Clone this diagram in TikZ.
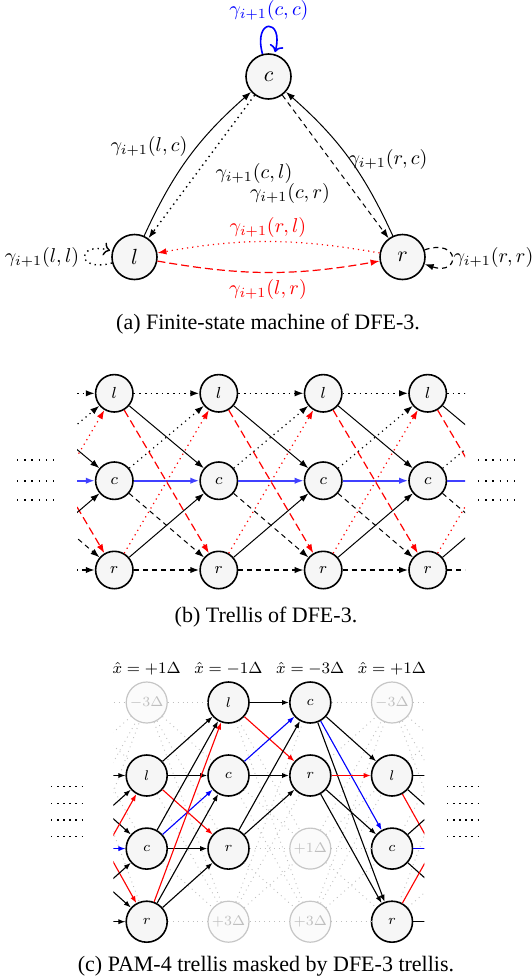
\documentclass[tikz,border=0pt]{standalone}
\usepackage[no-math]{fontspec}
\setmainfont{Liberation Serif}
\usetikzlibrary{arrows.meta}
\tikzset{
  fsm/.style={circle, draw, line width=0.8pt, fill=gray!7, minimum size=22.5pt, inner sep=0pt, font=\fontsize{11}{13}\selectfont},
  tnode/.style={circle, draw, line width=0.8pt, fill=gray!7, minimum size=18.7pt, inner sep=0pt, font=\fontsize{8}{9}\selectfont},
  pnode/.style={circle, draw, line width=0.8pt, fill=gray!7, minimum size=20.5pt, inner sep=0pt, font=\fontsize{6.8}{8}\selectfont},
  ghost/.style={circle, draw=gray!45, line width=0.6pt, fill=gray!3, text=gray!50, minimum size=20.5pt, inner sep=0pt, font=\fontsize{6.8}{8}\selectfont},
  lbl/.style={font=\fontsize{10}{12}\selectfont, inner sep=0pt},
  hdr/.style={font=\fontsize{7.9}{10}\selectfont, inner sep=0pt},
  captext/.style={font=\fontsize{11}{13}\selectfont, inner sep=1pt},
  arrA/.style={-{Latex[length=4.5pt,width=3.2pt]}},
  arrC/.style={-{Latex[length=3.5pt,width=2.6pt]}},
  blkdot/.style={arrA, dotted, line width=0.7pt},
  blkdash/.style={arrA, dash pattern=on 2.5pt off 2pt, line width=0.5pt},
  reddot/.style={arrA, red, dotted, line width=0.6pt},
  reddash/.style={arrA, red, dash pattern=on 4pt off 2pt, line width=0.6pt},
  blksolid/.style={arrA, line width=0.5pt},
  bluethick/.style={arrA, blue!75, line width=1pt},
  hdot/.style={arrA, dotted, line width=0.8pt},
  hdash/.style={arrA, dash pattern=on 2.5pt off 2pt, line width=0.8pt},
  ce/.style={arrC, line width=0.55pt},
  cred/.style={arrC, red, line width=0.55pt},
  cblue/.style={arrC, blue, line width=0.55pt},
  gline/.style={gray!50, dotted, line width=0.45pt},
  dotsB/.style={dash pattern=on 0.7pt off 2.9pt, line width=0.7pt},
  dotsC/.style={dash pattern=on 0.7pt off 2.36pt, line width=0.7pt},
}
\begin{document}
\begin{tikzpicture}[x=0.5pt,y=-0.5pt]
\useasboundingbox (0,0) rectangle (531,980);

%% (a) finite-state machine
\node[fsm] (c) at (268.5,76.5) {$c$};
\node[fsm] (l) at (134.5,257) {$l$};
\node[fsm] (r) at (402.5,257) {$r$};

\draw (c) edge[arrA, blue, line width=0.8pt, loop above] (c);
\draw (l) edge[blkdot, loop left] (l);
\draw[blkdash, line width=0.6pt] (r.18) .. controls +(36,-12) and +(36,12) .. (r.-18);
\draw[blksolid] (l) to[bend left=12] (c);
\draw[blksolid] (r) to[bend right=12] (c);
\draw[blkdot] (c) -- (l);
\draw[blkdash] (c) -- (r);
\draw[reddot] (r) to[bend right=10] (l);
\draw[reddash] (l) to[bend right=10] (r);

\node[lbl, blue] (lcc) at (269,10) {$\gamma_{i+1}(c,c)$};
\node[lbl] (llc) at (149,146) {$\gamma_{i+1}(l,c)$};
\node[lbl] (lcl) at (254,173) {$\gamma_{i+1}(c,l)$};
\node[lbl] (lcr) at (290,193) {$\gamma_{i+1}(c,r)$};
\node[lbl] (lrc) at (388,159) {$\gamma_{i+1}(r,c)$};
\node[lbl, red] (lrl) at (268,227) {$\gamma_{i+1}(r,l)$};
\node[lbl, red] (llr) at (268,289) {$\gamma_{i+1}(l,r)$};
\node[lbl] (lll) at (42,257) {$\gamma_{i+1}(l,l)$};
\node[lbl] (lrr) at (493.5,257) {$\gamma_{i+1}(r,r)$};

\node[captext] (capa) at (268,324) {(a) Finite-state machine of DFE-3.};

%% (b) trellis
\foreach \i/\x in {1/114.3,2/218.8,3/323.2,4/427.7} {
  \node[tnode] (bl\i) at (\x,393.3) {$l$};
  \node[tnode] (bc\i) at (\x,480.7) {$c$};
  \node[tnode] (br\i) at (\x,570) {$r$};
}
\foreach \i/\x in {0/9.8,5/532.2} {
  \coordinate (bl\i) at (\x,393.3);
  \coordinate (bc\i) at (\x,480.7);
  \coordinate (br\i) at (\x,570);
}
\begin{scope}
\clip (77,340) rectangle (465,600);
\foreach \a/\b in {0/1,1/2,2/3,3/4,4/5} {
  \draw[hdot] (bl\a) -- (bl\b);
  \draw[blksolid] (bl\a) -- (bc\b);
  \draw[reddash] (bl\a) -- (br\b);
  \draw[bluethick] (bc\a) -- (bc\b);
  \draw[blkdot, line width=0.6pt] (bc\a) -- (bl\b);
  \draw[blkdash] (bc\a) -- (br\b);
  \draw[hdash] (br\a) -- (br\b);
  \draw[blksolid] (br\a) -- (bc\b);
  \draw[reddot] (br\a) -- (bl\b);
}
\end{scope}
\foreach \k/\y in {1/460,2/481,3/500} {
  \coordinate (bdl\k) at (17,\y); \coordinate (bdm\k) at (55,\y);
  \coordinate (bdr\k) at (478,\y); \coordinate (bds\k) at (516,\y);
  \draw[dotsB] (bdl\k) -- (bdm\k);
  \draw[dotsB] (bdr\k) -- (bds\k);
}
\node[captext] (capb) at (266,617) {(b) Trellis of DFE-3.};

%% (c) PAM-4 trellis masked
\foreach \i/\x in {0/64.9,1/146.7,2/228.5,3/310.3,4/392,5/473.8} {
  \foreach \j/\y in {1/702.5,2/775.5,3/848.6,4/921.7} {
    \coordinate (q\i\j) at (\x,\y);
  }
}
\node[ghost] (p11) at (q11) {$-3\Delta$};
\node[pnode] (p12) at (q12) {$l$};
\node[pnode] (p13) at (q13) {$c$};
\node[pnode] (p14) at (q14) {$r$};
\node[pnode] (p21) at (q21) {$l$};
\node[pnode] (p22) at (q22) {$c$};
\node[pnode] (p23) at (q23) {$r$};
\node[ghost] (p24) at (q24) {$+3\Delta$};
\node[pnode] (p31) at (q31) {$c$};
\node[pnode] (p32) at (q32) {$r$};
\node[ghost] (p33) at (q33) {$+1\Delta$};
\node[ghost] (p34) at (q34) {$+3\Delta$};
\node[ghost] (p41) at (q41) {$-3\Delta$};
\node[pnode] (p42) at (q42) {$l$};
\node[pnode] (p43) at (q43) {$c$};
\node[pnode] (p44) at (q44) {$r$};
\foreach \j in {1,...,4} {
  \coordinate (p0\j) at (q0\j);
  \coordinate (p5\j) at (q5\j);
}
\begin{scope}
\clip (113.3,680) rectangle (424.3,950);
\foreach \a/\b in {0/1,1/2,2/3,3/4,4/5} {
  \foreach \m in {1,...,4} {
    \foreach \n in {1,...,4} {
      \draw[gline] (p\a\m) -- (p\b\n);
    }
  }
}
% col0 -> col1
\draw[ce] (p02) -- (p12); \draw[ce] (p02) -- (p13); \draw[cred] (p02) -- (p14);
\draw[ce] (p03) -- (p12); \draw[cblue] (p03) -- (p13); \draw[ce] (p03) -- (p14);
\draw[cred] (p04) -- (p12); \draw[ce] (p04) -- (p13); \draw[ce] (p04) -- (p14);
% col1 -> col2
\draw[ce] (p12) -- (p21); \draw[ce] (p12) -- (p22); \draw[cred] (p12) -- (p23);
\draw[ce] (p13) -- (p21); \draw[cblue] (p13) -- (p22); \draw[ce] (p13) -- (p23);
\draw[cred] (p14) -- (p21); \draw[ce] (p14) -- (p22); \draw[ce] (p14) -- (p23);
% col2 -> col3
\draw[ce] (p21) -- (p31); \draw[cred] (p21) -- (p32);
\draw[cblue] (p22) -- (p31); \draw[ce] (p22) -- (p32);
\draw[ce] (p23) -- (p31); \draw[ce] (p23) -- (p32);
% col3 -> col4
\draw[ce] (p31) -- (p42); \draw[cblue] (p31) -- (p43); \draw[ce] (p31) -- (p44);
\draw[cred] (p32) -- (p42); \draw[ce] (p32) -- (p43); \draw[ce] (p32) -- (p44);
% col4 -> col5
\draw[ce] (p42) -- (p52); \draw[ce] (p42) -- (p53); \draw[cred] (p42) -- (p54);
\draw[ce] (p43) -- (p52); \draw[cblue] (p43) -- (p53); \draw[ce] (p43) -- (p54);
\draw[cred] (p44) -- (p52); \draw[ce] (p44) -- (p54);
\end{scope}

\node[hdr] (h1) at (146.7,668.3) {$\hat{x} = +1\Delta$};
\node[hdr] (h2) at (228.5,668.3) {$\hat{x} = -1\Delta$};
\node[hdr] (h3) at (310.3,668.3) {$\hat{x} = -3\Delta$};
\node[hdr] (h4) at (392,668.3) {$\hat{x} = +1\Delta$};

\foreach \k/\y in {1/786.7,2/803.3,3/820,4/836.5} {
  \coordinate (cdl\k) at (51,\y); \coordinate (cdm\k) at (83,\y);
  \coordinate (cdr\k) at (447,\y); \coordinate (cds\k) at (479,\y);
  \draw[dotsC] (cdl\k) -- (cdm\k);
  \draw[dotsC] (cdr\k) -- (cds\k);
}
\node[captext] (capc) at (266,966) {(c) PAM-4 trellis masked by DFE-3 trellis.};
\end{tikzpicture}
\end{document}
